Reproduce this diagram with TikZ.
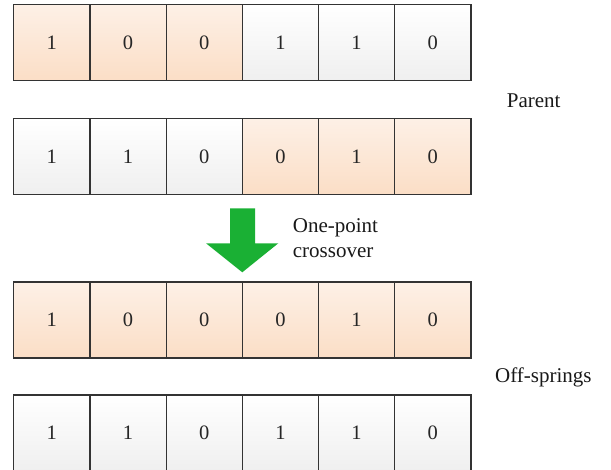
\documentclass[tikz,border=0pt]{standalone}
\usepackage{fontspec}
\setmainfont{Liberation Serif}
\begin{document}
\begin{tikzpicture}[x=1pt,y=-1pt,
  gene/.style={draw=black!80,line width=1.2pt,minimum width=76.2pt,minimum height=76pt,
    inner sep=0pt,outer sep=0pt,font=\fontsize{20.5}{23}\selectfont,text=black!85},
  orangecell/.style={gene,top color=orangetop,bottom color=orangebot},
  whitecell/.style={gene,top color=white,bottom color=whitebot},
  caption/.style={font=\fontsize{21}{25}\selectfont,inner sep=0pt,text=black!90},
]
\definecolor{orangetop}{HTML}{FDF0E6}
\definecolor{orangebot}{HTML}{FBDEC6}
\definecolor{whitebot}{HTML}{EFEFEF}
\definecolor{arrowgreen}{HTML}{1AB034}
\useasboundingbox (0,0) rectangle (611,470);

% chromosome rows: first parent, second parent, first and second off-spring
\foreach \row/\top/\bits/\cols in {
    1/4.7/{1,0,0,1,1,0}/{orangecell,orangecell,orangecell,whitecell,whitecell,whitecell},
    2/118.3/{1,1,0,0,1,0}/{whitecell,whitecell,whitecell,orangecell,orangecell,orangecell},
    3/282/{1,0,0,0,1,0}/{orangecell,orangecell,orangecell,orangecell,orangecell,orangecell},
    4/395/{1,1,0,1,1,0}/{whitecell,whitecell,whitecell,whitecell,whitecell,whitecell}}{
  \foreach \b [count=\i] in \bits {
    \foreach \c [count=\j] in \cols {
      \ifnum\i=\j
        \node[\c] (r\row c\i) at ({13.7+76.2*(\i-0.5)},{\top+38}) {\b};
      \fi
    }
  }
}

% crossover arrow
\coordinate (tip) at (242.3,272.3);
\fill[arrowgreen] (230,208.3) -- (255,208.3) -- (255,243.3) -- (278.3,243.3)
  -- (tip) -- (206,243.3) -- (230,243.3) -- cycle;

\node[caption,anchor=base west,align=left] (op) at (292.7,258) {One-point\\crossover};
\node[caption,anchor=base west] (parent) at (506.7,107.7) {Parent};
\node[caption,anchor=base west] (off) at (495,383) {Off-springs};
\end{tikzpicture}
\end{document}
